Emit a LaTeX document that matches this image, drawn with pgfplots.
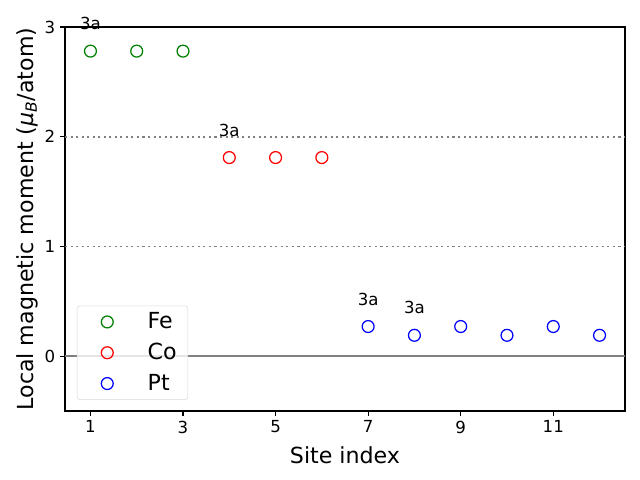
\documentclass[border=0pt]{standalone}
\usepackage{fontspec}
\setmainfont{DejaVu Sans}
\usepackage{pgfplots}
\pgfplotsset{compat=1.18}

\begin{document}
\begin{tikzpicture}
\useasboundingbox (-0.65in,-0.69in) rectangle ++(6.4in,4.8in);
\begin{axis}[
  anchor=south west, at={(0,0)},
  scale only axis, width=5.6in, height=3.84in,
  xmin=0.45, xmax=12.55, ymin=-0.5, ymax=3,
  xtick={1,3,5,7,9,11}, ytick={0,1,2,3},
  tick align=outside, tick pos=left,
  major tick length=3.5pt,
  tick style={black, line width=0.8pt},
  axis line style={line width=0.8pt},
  ticklabel style={font=\fontsize{12}{14}\selectfont},
  /pgf/number format/assume math mode=true,
  xlabel={Site index}, ylabel={Local magnetic moment ({\itshape μ\textsubscript{B}}/atom)},
  label style={font=\fontsize{16}{19}\selectfont},
  xlabel style={yshift=-3pt},
  ylabel style={yshift=-2pt},
  clip=false,
  legend style={at={(0.021,0.029)}, anchor=south west, font=\fontsize{16}{19}\selectfont,
    draw=gray!30, fill=white, fill opacity=0.8, text opacity=1, rounded corners=2pt,
    row sep=5pt, inner xsep=6pt, inner ysep=3pt},
  legend cell align=left,
  legend image code/.code={
    \path (0,0) (1.5cm,0);
    \draw[#1, line width=0.9pt] (0.55cm,0cm) circle (4.3pt);},
]
\addplot[gray, line width=1.2pt, forget plot] coordinates {(0.45,0) (12.55,0)};
\addplot[gray, line width=1.2pt, dash pattern=on 1.5pt off 2.5pt, forget plot] coordinates {(0.45,1) (12.55,1)};
\addplot[gray, line width=1.2pt, dash pattern=on 1.5pt off 2.5pt, forget plot] coordinates {(0.45,2) (12.55,2)};
\addplot[only marks, mark=o, mark size=4.3pt, color=black!50!green, mark options={line width=0.9pt}]
  coordinates {(1,2.78) (2,2.78) (3,2.78)};
\addplot[only marks, mark=o, mark size=4.3pt, color=red, mark options={line width=0.9pt}]
  coordinates {(4,1.81) (5,1.81) (6,1.81)};
\addplot[only marks, mark=o, mark size=4.3pt, color=blue, mark options={line width=0.9pt}]
  coordinates {(7,0.27) (8,0.19) (9,0.27) (10,0.19) (11,0.27) (12,0.19)};
\legend{Fe, Co, Pt}
\node[font=\fontsize{12}{14}\selectfont] at (axis cs:1,3.03) {3a};
\node[font=\fontsize{12}{14}\selectfont] at (axis cs:4,2.06) {3a};
\node[font=\fontsize{12}{14}\selectfont] at (axis cs:7,0.52) {3a};
\node[font=\fontsize{12}{14}\selectfont] at (axis cs:8,0.44) {3a};
\end{axis}
\end{tikzpicture}
\end{document}
